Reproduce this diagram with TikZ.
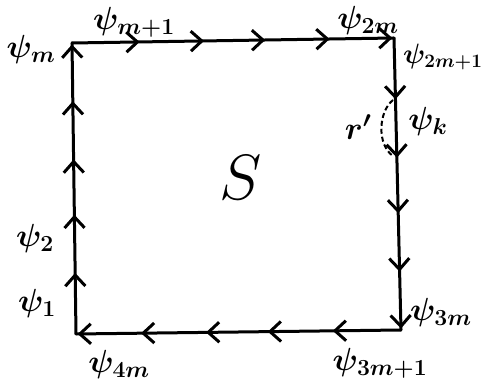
\RequirePackage{fix-cm}
\documentclass[tikz,border=0pt]{standalone}
\DeclareMathSizes{32}{32}{23}{16}
\DeclareMathSizes{28}{28}{19}{14}
\usetikzlibrary{arrows.meta,decorations.markings}
\tikzset{
  >={Straight Barb[length=11pt,width=20pt]},
  flow/.style={line width=3pt, line cap=round, postaction={decorate},
    decoration={markings,
      mark=at position 0.21 with {\arrow{>}},
      mark=at position 0.41 with {\arrow{>}},
      mark=at position 0.60 with {\arrow{>}},
      mark=at position 0.80 with {\arrow{>}},
      mark=at position 0.995 with {\arrow{>}}}},
  lbl/.style={inner sep=0pt, font=\fontsize{32}{36}\selectfont\boldmath},
  lblsm/.style={inner sep=0pt, font=\fontsize{28}{32}\selectfont\boldmath},
  dashpath/.style={line width=2pt, dash pattern=on 5pt off 3pt}
}
\begin{document}
\begin{tikzpicture}[x=1pt,y=-1pt]
\useasboundingbox (0,0) rectangle (485,387);
\coordinate (tl) at (72,43);
\coordinate (tr) at (394,38);
\coordinate (br) at (401,330);
\coordinate (bl) at (76,334);
\draw[flow] (bl) -- (tl);
\draw[flow] (tl) -- (tr);
\draw[flow] (tr) -- (br);
\draw[flow] (br) -- (bl);
\coordinate (d1) at (393,100);
\coordinate (d2) at (393,156);
\draw[dashpath] (d1) .. controls (378,112) and (377,145) .. (d2);
\node[lbl] (pm) at (31,50) {$\psi_m$};
\node[lbl] (pm1) at (134,22) {$\psi_{m{+}1}$};
\node[lbl] (p2m) at (368,21) {$\psi_{2m}$};
\node[lblsm, anchor=west] (p2m1) at (403,57) {$\psi_{2m{+}1}$};
\node[lbl] (pk) at (428,122) {$\psi_k$};
\node[lbl] (rp) at (358,127) {$r'$};
\node[lbl] (p2) at (35,239) {$\psi_2$};
\node[lbl] (p1) at (37,304) {$\psi_1$};
\node[lbl] (p4m) at (119,365) {$\psi_{4m}$};
\node[lbl, anchor=west] (p3m) at (410,313) {$\psi_{3m}$};
\node[lbl] (p3m1) at (380,363) {$\psi_{3m{+}1}$};
\node[inner sep=0pt, font=\fontsize{64}{72}\selectfont] (s) at (241,178) {$S$};
\end{tikzpicture}
\end{document}
